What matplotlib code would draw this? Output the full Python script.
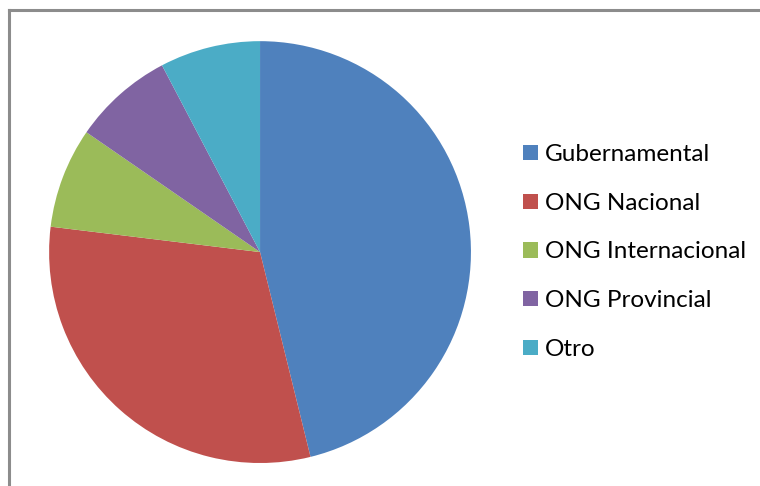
import matplotlib
matplotlib.use('Agg')
import matplotlib.pyplot as plt
from matplotlib.patches import Patch
from matplotlib.lines import Line2D

labels = ['Gubernamental', 'ONG Nacional', 'ONG Internacional', 'ONG Provincial', 'Otro']
counts = [6, 4, 1, 1, 1]
colors = ['#4F81BD', '#C0504D', '#9BBB59', '#8064A2', '#4BACC6']

plt.rcParams['font.family'] = ['Lato', 'DejaVu Sans']

fig = plt.figure(figsize=(7.6, 4.86), dpi=100)
ax = fig.add_axes([0.0645, 0.0473, 0.5553, 0.868])
ax.pie(counts, colors=colors, startangle=90, counterclock=False, radius=1,
       wedgeprops=dict(linewidth=0))
ax.set_xlim(-1, 1); ax.set_ylim(-1, 1)
ax.set_aspect('equal')

# chart frame (only top and left edges visible in the crop)
fig.add_artist(Line2D([9 / 760, 9 / 760], [0, 1 - 10.5 / 486], color='#8c8c8c', lw=2.2))
fig.add_artist(Line2D([9 / 760, 1], [1 - 10.5 / 486, 1 - 10.5 / 486], color='#8c8c8c', lw=2.2))

handles = [Patch(facecolor=c, edgecolor='none') for c in colors]
fig.legend(handles, labels, loc='center left', bbox_to_anchor=(523 / 760, 1 - 252 / 486),
           frameon=False, fontsize=17.5, handlelength=0.6, handleheight=0.6,
           handletextpad=0.3, labelspacing=1.14, borderpad=0, borderaxespad=0)

fig.savefig('out.png', dpi=100)
